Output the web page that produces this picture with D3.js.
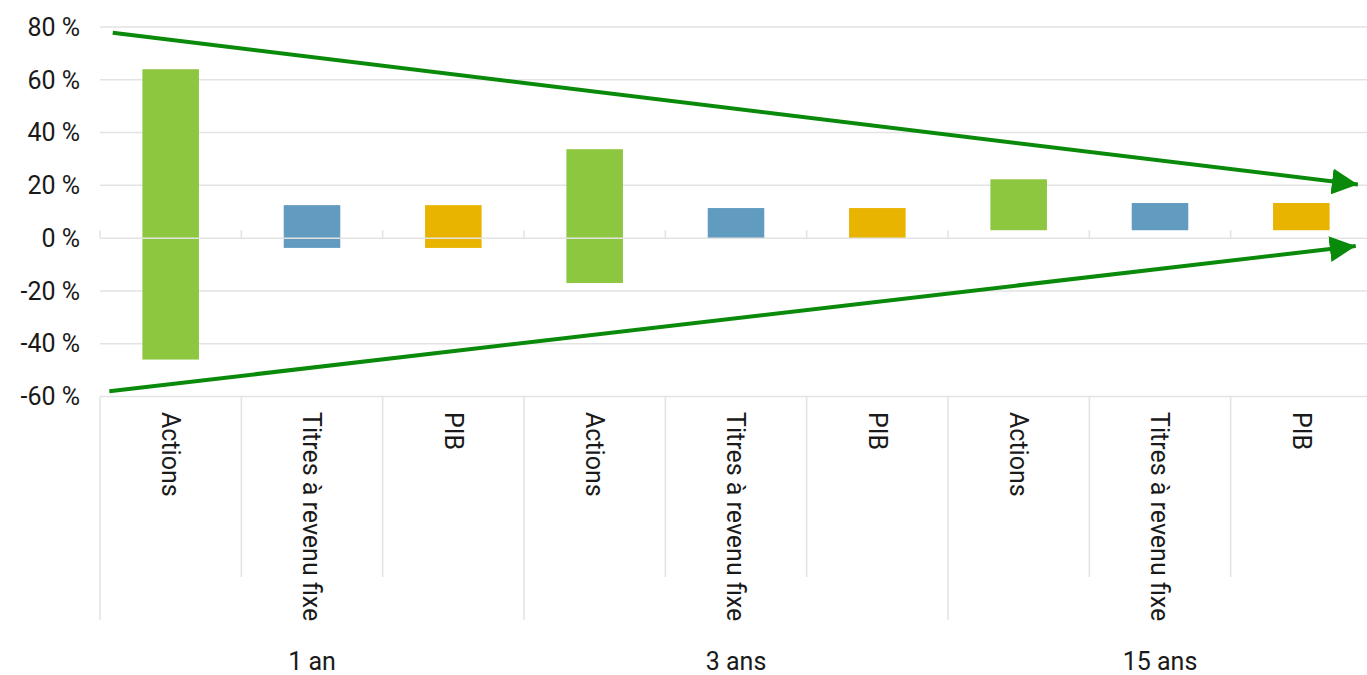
<!DOCTYPE html>
<html>
<head>
<meta charset="utf-8">
<script src="https://cdn.jsdelivr.net/npm/d3@7"></script>
<style>
  body { margin: 0; background: #fff; }
  svg { display: block; overflow: hidden; }
  text { font-family: Roboto, "Noto Sans", sans-serif; fill: #1a1a1a; }
</style>
</head>
<body>
<div class="canvas"></div>
<script>
const groups = ["1 an", "3 ans", "15 ans"];
const assets = ["Actions", "Titres à revenu fixe", "PIB"];
const highs = [64, 12.5, 12.5, 33.7, 11.4, 11.4, 22.3, 13.3, 13.3];
const lows = [-46, -3.7, -3.7, -17, 0, 0, 3, 3, 3];
const yTicks = [-60, -40, -20, 0, 20, 40, 60, 80];
const colors = ["#8dc63f", "#619bbf", "#e8b400"];

// annotation arrows, x in category units (0..9), y in %
const arrows = [
  { from: [0.09, 77.8], to: [8.9, 20.3] },
  { from: [0.066, -58], to: [8.885, -3] },
];

const rows = highs.map((h, i) => ({
  i,
  group: groups[Math.floor(i / 3)],
  asset: assets[i % 3],
  high: h,
  low: lows[i],
}));

const W = 1367, H = 675;
const left = 100, right = 1372;

const svg = d3.select(".canvas").append("svg")
  .attr("width", W).attr("height", H);

const x = d3.scaleBand().domain(d3.range(9)).range([left, right]).padding(0);
const xu = d3.scaleLinear().domain([0, 9]).range([left, right]);
const y = d3.scaleLinear().domain([-60, 80]).range([396.5, 27]);

// gridlines
svg.append("g").selectAll("line").data(yTicks.filter((t) => t !== 0)).join("line")
  .attr("x1", left).attr("x2", W)
  .attr("y1", (d) => y(d)).attr("y2", (d) => y(d))
  .attr("stroke", "#e3e3e3").attr("stroke-width", 1.5);

// y labels
svg.append("g").selectAll("text").data(yTicks).join("text")
  .attr("x", 80).attr("y", (d) => y(d))
  .attr("dy", "0.35em")
  .attr("text-anchor", "end")
  .style("font-size", "25px")
  .text((d) => `${d} %`);

// bars
const bw = x.bandwidth() * 0.4;
svg.append("g").selectAll("rect").data(rows).join("rect")
  .attr("x", (d) => x(d.i) + x.bandwidth() / 2 - bw / 2)
  .attr("width", bw)
  .attr("y", (d) => y(d.high))
  .attr("height", (d) => y(d.low) - y(d.high))
  .attr("fill", (d) => colors[d.i % 3]);

// zero line on top of bars with small ticks
svg.append("line")
  .attr("x1", left).attr("x2", W)
  .attr("y1", y(0)).attr("y2", y(0))
  .attr("stroke", "#e3e3e3").attr("stroke-width", 1.5);
svg.append("g").selectAll("line").data(d3.range(10)).join("line")
  .attr("x1", (d) => xu(d)).attr("x2", (d) => xu(d))
  .attr("y1", y(0) - 8).attr("y2", y(0))
  .attr("stroke", "#e3e3e3").attr("stroke-width", 1.5);

// category axis separators
svg.append("g").selectAll("line").data(d3.range(10)).join("line")
  .attr("x1", (d) => xu(d)).attr("x2", (d) => xu(d))
  .attr("y1", y(-60))
  .attr("y2", (d) => (d % 3 === 0 ? 620 : 577))
  .attr("stroke", "#e3e3e3").attr("stroke-width", 1.5);

// asset labels, rotated
svg.append("g").selectAll("text").data(rows).join("text")
  .attr("transform", (d) => `translate(${x(d.i) + x.bandwidth() / 2}, 412) rotate(90)`)
  .attr("dy", "0.35em")
  .style("font-size", "25px")
  .text((d) => d.asset);

// group labels
svg.append("g").selectAll("text").data(groups).join("text")
  .attr("x", (d, i) => xu(i * 3 + 1.5))
  .attr("y", 670)
  .attr("text-anchor", "middle")
  .style("font-size", "25px")
  .text((d) => d);

// arrows
svg.append("defs").append("marker")
  .attr("id", "head")
  .attr("viewBox", "0 0 26 26")
  .attr("refX", 26).attr("refY", 13)
  .attr("markerWidth", 26).attr("markerHeight", 26)
  .attr("markerUnits", "userSpaceOnUse")
  .attr("orient", "auto")
  .append("path")
  .attr("d", "M0,0 L26,13 L0,26 Z")
  .attr("fill", "#0a8a0a");

svg.append("g").selectAll("line").data(arrows).join("line")
  .attr("x1", (d) => xu(d.from[0])).attr("y1", (d) => y(d.from[1]))
  .attr("x2", (d) => xu(d.to[0])).attr("y2", (d) => y(d.to[1]))
  .attr("stroke", "#0a8a0a").attr("stroke-width", 4)
  .attr("marker-end", "url(#head)");
</script>
</body>
</html>
